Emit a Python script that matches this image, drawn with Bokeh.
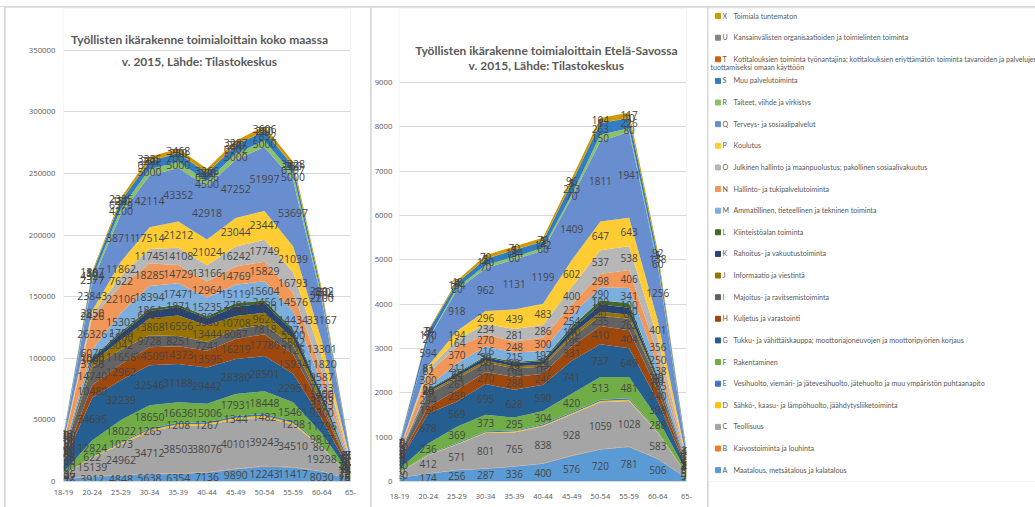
import textwrap
import numpy as np
from bokeh.plotting import figure
from bokeh.models import ColumnDataSource, Range1d, FixedTicker, NumeralTickFormatter, Spacer
from bokeh.layouts import row, column
from bokeh.embed import file_html
from bokeh.resources import INLINE
from bokeh.core.properties import value

categories = ["18-19", "20-24", "25-29", "30-34", "35-39", "40-44",
              "45-49", "50-54", "55-59", "60-64", "65-"]

codes = ["A", "B", "C", "D", "E", "F", "G", "H", "I", "J", "K", "L",
         "M", "N", "O", "P", "Q", "R", "S", "T", "U", "X"]

names = [
    "Maatalous, metsätalous ja kalatalous",
    "Kaivostoiminta ja louhinta",
    "Teollisuus",
    "Sähkö-, kaasu- ja lämpöhuolto, jäähdytysliiketoiminta",
    "Vesihuolto, viemäri- ja jätevesihuolto, jätehuolto ja muu ympäristön puhtaanapito",
    "Rakentaminen",
    "Tukku- ja vähittäiskauppa; moottoriajoneuvojen ja moottoripyörien korjaus",
    "Kuljetus ja varastointi",
    "Majoitus- ja ravitsemistoiminta",
    "Informaatio ja viestintä",
    "Rahoitus- ja vakuutustoiminta",
    "Kiinteistöalan toiminta",
    "Ammatillinen, tieteellinen ja tekninen toiminta",
    "Hallinto- ja tukipalvelutoiminta",
    "Julkinen hallinto ja maanpuolustus; pakollinen sosiaalivakuutus",
    "Koulutus",
    "Terveys- ja sosiaalipalvelut",
    "Taiteet, viihde ja virkistys",
    "Muu palvelutoiminta",
    "Kotitalouksien toiminta työnantajina; kotitalouksien eriyttämätön toiminta tavaroiden ja palvelujen tuottamiseksi omaan käyttöön",
    "Kansainvälisten organisaatioiden ja toimielinten toiminta",
    "Toimiala tuntematon",
]

colors = ["#5B9BD5", "#ED7D31", "#A5A5A5", "#FFC000", "#4472C4", "#70AD47",
          "#255E91", "#9E480E", "#636363", "#997300", "#264478", "#43682B",
          "#7CAFDD", "#F1975A", "#B7B7B7", "#FFCD33", "#698ED0", "#8CC168",
          "#327DC2", "#D26012", "#848484", "#CC9A00"]

# ---- Koko maa (whole country) ----
fi_A = [2076, 3912, 4848, 5638, 6354, 7136, 9890, 12243, 11417, 8030, 1329]
fi_B = [72, 250, 300, 400, 400, 400, 450, 500, 450, 200, 30]
fi_C = [2847, 15139, 24962, 34712, 38503, 38076, 40101, 39243, 34510, 19298, 2600]
fi_D = [70, 622, 1073, 1265, 1208, 1267, 1344, 1482, 1298, 867, 60]
fi_E = [80, 550, 800, 1200, 1200, 1200, 1300, 1400, 1300, 800, 80]
fi_F = [2436, 12824, 18022, 18650, 16636, 15006, 17931, 18448, 15461, 9817, 1600]
fi_G = [8000, 34635, 32239, 32546, 31188, 29442, 28380, 28501, 22951, 11796, 2500]
fi_H = [1500, 10480, 12962, 14509, 14373, 13595, 16219, 17780, 15934, 9300, 1300]
fi_I = [6028, 14740, 11658, 9728, 8251, 7241, 8087, 7818, 7126, 3383, 600]
fi_J = [600, 3756, 8042, 13868, 16556, 13444, 10708, 9620, 5862, 3183, 500]
fi_K = [500, 3000, 5000, 6000, 7000, 5500, 7500, 7500, 5500, 3836, 400]
fi_L = [300, 1000, 1700, 1864, 1871, 1800, 2781, 2456, 2271, 1400, 700]
fi_M = [1200, 6079, 15303, 18394, 17471, 15235, 15119, 15604, 14434, 7733, 1800]
fi_N = [4500, 26326, 22106, 18285, 14729, 12964, 14769, 15829, 14576, 9587, 2000]
fi_O = [500, 2426, 7622, 11745, 14108, 13166, 16242, 17749, 16793, 11820, 600]
fi_P = [1200, 2850, 11862, 17514, 21212, 21024, 23044, 23447, 21039, 13301, 900]
fi_Q = [4000, 23843, 38711, 42114, 43352, 42918, 47252, 51997, 53697, 33167, 3200]
fi_R = [900, 2377, 4200, 5000, 5000, 4500, 5000, 5000, 5000, 2200, 600]
fi_S = [1100, 4324, 6379, 6575, 7005, 6406, 6902, 7852, 6397, 3704, 900]
fi_T = [30, 80, 150, 250, 250, 250, 250, 250, 250, 150, 50]
fi_U = [2, 10, 20, 30, 30, 30, 30, 30, 30, 20, 5]
fi_X = [500, 1367, 2335, 3335, 3468, 3266, 3287, 3606, 3328, 2802, 300]

# ---- Etelä-Savo ----
es_A = [82, 174, 256, 287, 336, 400, 576, 720, 781, 506, 75]
es_B = [2, 4, 6, 6, 6, 6, 8, 8, 8, 5, 1]
es_C = [120, 412, 571, 801, 765, 838, 928, 1059, 1028, 583, 90]
es_D = [3, 12, 15, 20, 20, 20, 25, 30, 30, 15, 2]
es_E = [4, 20, 20, 20, 20, 25, 25, 30, 30, 20, 3]
es_F = [70, 236, 369, 373, 295, 304, 420, 513, 481, 288, 50]
es_G = [180, 678, 569, 695, 628, 590, 741, 737, 649, 398, 80]
es_H = [40, 150, 259, 270, 288, 246, 331, 410, 404, 240, 40]
es_I = [90, 294, 261, 210, 194, 167, 195, 235, 262, 185, 20]
es_J = [8, 40, 45, 50, 45, 45, 70, 90, 90, 40, 8]
es_K = [10, 40, 60, 70, 70, 75, 110, 160, 160, 60, 10]
es_L = [5, 20, 25, 30, 30, 30, 70, 100, 100, 40, 15]
es_M = [25, 65, 211, 216, 215, 197, 254, 290, 341, 238, 50]
es_N = [60, 300, 370, 270, 248, 300, 237, 298, 406, 250, 40]
es_O = [10, 82, 164, 234, 281, 286, 400, 537, 538, 356, 10]
es_P = [20, 81, 194, 296, 439, 483, 602, 647, 643, 401, 25]
es_Q = [110, 594, 918, 962, 1131, 1199, 1409, 1811, 1941, 1256, 120]
es_R = [12, 20, 60, 70, 60, 60, 70, 150, 80, 60, 15]
es_S = [25, 170, 104, 140, 154, 142, 263, 263, 226, 158, 40]
es_T = [1, 3, 4, 5, 5, 5, 8, 8, 10, 5, 2]
es_U = [0, 0, 0, 1, 1, 1, 1, 1, 1, 1, 0]
es_X = [10, 24, 48, 79, 70, 79, 96, 104, 117, 92, 17]

fi_series = [fi_A, fi_B, fi_C, fi_D, fi_E, fi_F, fi_G, fi_H, fi_I, fi_J, fi_K,
             fi_L, fi_M, fi_N, fi_O, fi_P, fi_Q, fi_R, fi_S, fi_T, fi_U, fi_X]
es_series = [es_A, es_B, es_C, es_D, es_E, es_F, es_G, es_H, es_I, es_J, es_K,
             es_L, es_M, es_N, es_O, es_P, es_Q, es_R, es_S, es_T, es_U, es_X]

# series whose data labels are not visible in the original
fi_unlabelled = ["B", "E"]
es_unlabelled = ["B", "D", "E"]

title_fi = ["Työllisten ikärakenne toimialoittain koko maassa",
            "v. 2015, Lähde: Tilastokeskus"]
title_es = ["Työllisten ikärakenne toimialoittain Etelä-Savossa",
            "v. 2015, Lähde: Tilastokeskus"]

TXT = "#595959"
GRID = "#d9d9d9"
H = 500


def area_chart(series, unlabelled, width, bl, br, bb, y_end, y_ticks,
               titles, tx, ty, lab_size, sx, sy):
    n = len(categories)
    p = figure(width=width, height=H, x_range=Range1d(0, n - 1),
               y_range=Range1d(0, y_end), output_backend="svg",
               toolbar_location=None, min_border_left=bl,
               min_border_right=br, min_border_top=1, min_border_bottom=bb)
    x = np.arange(n)
    data = {"x": x}
    for c, vals in zip(codes, series):
        data[c] = vals
    src = ColumnDataSource(data)
    p.varea_stack(stackers=codes, x="x", color=colors, source=src)

    arr = np.array(series, dtype=float)
    cum = np.cumsum(arr, axis=0)
    mids = cum - arr / 2.0
    lx, ly, lt = [], [], []
    for k, c in enumerate(codes):
        if c in unlabelled:
            continue
        lx.extend(x)
        ly.extend(mids[k])
        lt.extend(str(int(v)) for v in arr[k])
    lab = ColumnDataSource(dict(x=lx, y=ly, t=lt))
    p.text(x="x", y="y", text="t", source=lab, text_align="center",
           text_baseline="middle", text_font=value("Open Sans"),
           text_font_size=lab_size, text_color="#454545")

    p.text(x=[tx, tx], y=ty, text=titles, text_align="center",
           text_baseline="middle", text_font=value("Lato"),
           text_font_style="bold", text_font_size="12px", text_color=TXT)

    p.xaxis.ticker = FixedTicker(ticks=list(range(n)))
    p.xaxis.major_label_overrides = {i: c for i, c in enumerate(categories)}
    p.xaxis.axis_line_color = GRID
    p.xaxis.major_tick_line_color = None
    p.xaxis.minor_tick_line_color = None
    p.xaxis.major_tick_out = 0
    p.xaxis.major_tick_in = 0
    p.xaxis.major_label_standoff = sx
    p.xaxis.major_label_text_font = "Open Sans"
    p.xaxis.major_label_text_font_size = "7.5px"
    p.xaxis.major_label_text_color = TXT

    p.yaxis.ticker = FixedTicker(ticks=y_ticks)
    p.yaxis.formatter = NumeralTickFormatter(format="0")
    p.yaxis.axis_line_color = None
    p.yaxis.major_tick_line_color = None
    p.yaxis.minor_tick_line_color = None
    p.yaxis.major_tick_out = 0
    p.yaxis.major_tick_in = 0
    p.yaxis.major_label_standoff = sy
    p.yaxis.major_label_text_font = "Open Sans"
    p.yaxis.major_label_text_font_size = "7.8px"
    p.yaxis.major_label_text_color = TXT

    p.xgrid.visible = False
    p.ygrid.ticker = FixedTicker(ticks=y_ticks)
    p.ygrid.grid_line_color = GRID
    p.outline_line_color = None
    return p


p1 = area_chart(fi_series, fi_unlabelled, 365, 58, 20, 26, 384000,
                list(range(0, 350001, 50000)), title_fi, 4.74,
                [358800, 340900], "10.5px", 8, 8)
p2 = area_chart(es_series, es_unlabelled, 336, 28, 21, 23, 10673,
                list(range(0, 9001, 1000)), title_es, 5.12,
                [9730, 9395], "10px", 12, 7)

# ---- legend panel ----
p3 = figure(width=327, height=H, x_range=Range1d(708, 1035),
            y_range=Range1d(507, 7), output_backend="svg",
            toolbar_location=None, x_axis_type=None, y_axis_type=None,
            min_border=0)
p3.outline_line_color = None
p3.grid.visible = False

order = list(range(len(codes)))[::-1]
ys = np.linspace(15, 495, len(order))
first_lines, extra_y, extra_t = [], [], []
for yy, i in zip(ys, order):
    lines = textwrap.wrap(names[i], 100)
    first_lines.append(lines[0])
    for k, ln in enumerate(lines[1:], start=1):
        extra_y.append(yy + 8.5 * k)
        extra_t.append(ln)

leg = ColumnDataSource(dict(
    y=ys,
    code=[codes[i] for i in order],
    name=first_lines,
    color=[colors[i] for i in order],
))
LEG_FONT = value("Lato")
LEG_SIZE = "7.1px"
p3.scatter(x=717.5, y="y", marker="square", size=5, color="color",
           source=leg)
p3.text(x=722, y="y", text="code", source=leg, text_baseline="middle",
        text_font=LEG_FONT, text_font_size=LEG_SIZE, text_color=TXT)
p3.text(x=733, y="y", text="name", source=leg, text_baseline="middle",
        text_font=LEG_FONT, text_font_size=LEG_SIZE, text_color=TXT)
p3.text(x=[710] * len(extra_t), y=extra_y, text=extra_t,
        text_baseline="middle", text_font=LEG_FONT,
        text_font_size=LEG_SIZE, text_color=TXT)

white = {"background-color": "white"}
left_pad = Spacer(width=4, height=H, styles=white)
charts = row(left_pad, p1, p2, p3, spacing=1)
top_pad = Spacer(width=1035, height=6, styles=white)
layout = column(top_pad, charts, spacing=1, styles={"background-color": GRID})

open("out.html", "w").write(file_html(layout, INLINE))
